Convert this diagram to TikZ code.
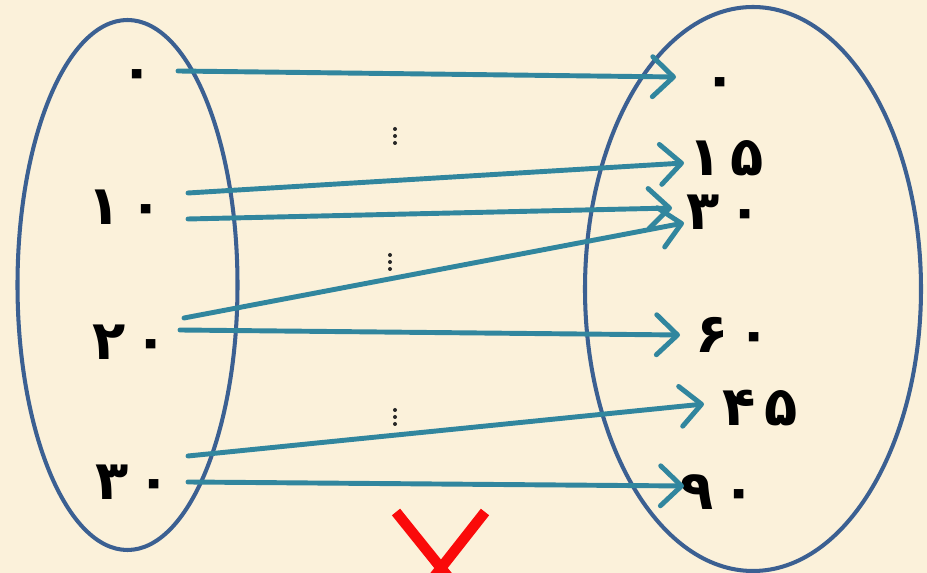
\documentclass[tikz,border=0pt]{standalone}
\usepackage{fontspec}
\usepackage{tikz}
\usetikzlibrary{arrows.meta, calc}
\newfontfamily\arabicfont[Script=Arabic]{DejaVu Sans}
\definecolor{paperbg}{RGB}{251,241,218}
\definecolor{setblue}{RGB}{59,96,146}
\definecolor{mapteal}{RGB}{49,134,158}
\definecolor{crossred}{RGB}{250,10,10}
\begin{document}
\begin{tikzpicture}[x=0.02cm, y=-0.02cm,
        num/.style={font=\arabicfont\bfseries\fontsize{31}{31}\selectfont, inner sep=0pt},
        setline/.style={draw=setblue, line width=2.3pt},
        mapedges/.style={every edge/.style={draw=mapteal, line width=2.8pt, line cap=round,
          -{Straight Barb[length=4.2mm, width=8mm, line cap=round, line join=round]}}},
        gapdot/.style={fill=black!85}]
      \fill[paperbg] (0,0) rectangle (927,573);
      \useasboundingbox (0,0) rectangle (927,573);
      % the two sets
      \draw[setline] (127.5,285) ellipse [x radius=110, y radius=265];
      \draw[setline] (753,289) ellipse [x radius=168, y radius=282];
      % left labels
      \node[num] (l0) at (137,80) {۰};
      \node[num] (l10) at (125,207) {۱\,۰};
      \node[num] (l20) at (130,342) {۲\,۰};
      \node[num] (l30) at (133,482) {۳\,۰};
      % right labels
      \node[num] (r0) at (720,88) {۰};
      \node[num] (r15) at (726,158) {۱\,۵};
      \node[num] (r30) at (724,212) {۳\,۰};
      \node[num] (r60) at (733,335) {۶\,۰};
      \node[num] (r45) at (760,408) {۴\,۵};
      \node[num] (r90) at (718,492) {۹\,۰};
      % gaps in the lists
      \coordinate (d1) at (395,136);
      \coordinate (d2) at (390,262);
      \coordinate (d3) at (395,417);
      \foreach \d in {d1,d2,d3}
        \foreach \k in {-7,0,7}
          \fill[gapdot] ($(\d)+(0,\k)$) circle [radius=2];
      % arrow ends
      \coordinate (s0) at (178,71);
      \coordinate (s10a) at (188,193);
      \coordinate (s10b) at (188,219);
      \coordinate (s20a) at (184,318);
      \coordinate (s20b) at (180,330);
      \coordinate (s30a) at (188,456);
      \coordinate (s30b) at (188,482);
      \coordinate (e0) at (676,77);
      \coordinate (e15) at (684,163);
      \coordinate (e30a) at (672,208);
      \coordinate (e30b) at (684,223);
      \coordinate (e60) at (680,335);
      \coordinate (e45) at (704,404);
      \coordinate (e90) at (684,486);
      \path[mapedges] (s0) edge (e0)
            (s10a) edge (e15)
            (s10b) edge (e30a)
            (s20a) edge (e30b)
            (s20b) edge (e60)
            (s30a) edge (e45)
            (s30b) edge (e90);
      % red cross, cut at the bottom
      \coordinate (xa) at (396,512);
      \coordinate (xb) at (485,512);
      \coordinate (xc) at (441,568);
      \draw[crossred, line width=6pt] (xa) -- ($(xa)!1.5!(xc)$)
            (xb) -- ($(xb)!1.5!(xc)$);
    \end{tikzpicture}
\end{document}
